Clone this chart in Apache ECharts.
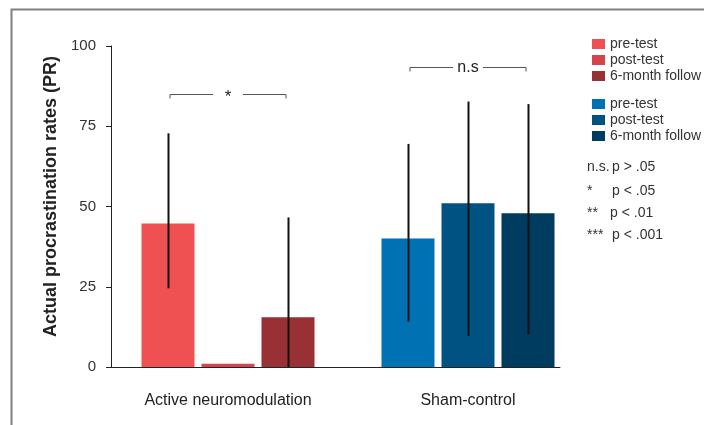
<!DOCTYPE html>
<html>
<head>
<meta charset="utf-8">
<script src="https://cdn.jsdelivr.net/npm/echarts@6/dist/echarts.min.js"></script>
<style>
html,body{margin:0;padding:0;background:#fff;}
#chart{width:704px;height:425px;}
</style>
</head>
<body>
<div id="chart"></div>
<script>
// ---- data ----
const categories = ['Active neuromodulation', 'Sham-control'];
const phases = ['pre-test', 'post-test', '6-month follow'];
const activeMeans = [44.7, 1.0, 15.5];
const activeErrLow = [24.5, null, 0];
const activeErrHigh = [72.8, null, 46.6];
const shamMeans = [40.0, 51.0, 47.9];
const shamErrLow = [14.1, 9.7, 10.2];
const shamErrHigh = [69.5, 82.7, 81.9];
const bracketLabels = ['*', 'n.s'];
const bracketLevels = [85, 93.5];
const yTicks = [0, 25, 50, 75, 100];
const pKeySymbols = ['n.s.', '*', '**', '***'];
const pKeyTexts = ['p > .05', 'p < .05', 'p < .01', 'p < .001'];
const yAxisTitle = 'Actual procrastination rates (PR)';

// ---- styles ----
const FONT = "'Liberation Sans', Arial, sans-serif";
const redColors = ['#EF5152', '#D7434A', '#983035'];
const blueColors = ['#0071B3', '#005283', '#003C60'];
const BAR_W = 53;
const BAR_GAP = 7;
const PITCH = BAR_W + BAR_GAP;

const series = [];
phases.forEach((ph, i) => {
  series.push({
    name: 'Active ' + ph, type: 'bar', xAxisIndex: 0, yAxisIndex: 0,
    stack: 's' + i, barWidth: BAR_W, barGap: (BAR_GAP / BAR_W * 100).toFixed(2) + '%',
    itemStyle: { color: redColors[i] },
    data: [activeMeans[i], '-']
  });
});
phases.forEach((ph, i) => {
  series.push({
    name: 'Sham ' + ph, type: 'bar', xAxisIndex: 0, yAxisIndex: 0,
    stack: 's' + i, barWidth: BAR_W,
    itemStyle: { color: blueColors[i] },
    data: ['-', shamMeans[i]]
  });
});

// error bars
const errData = [];
phases.forEach((ph, i) => {
  if (activeErrLow[i] !== null) errData.push([0, activeErrLow[i], activeErrHigh[i], i]);
  if (shamErrLow[i] !== null) errData.push([1, shamErrLow[i], shamErrHigh[i], i]);
});
series.push({
  type: 'custom', xAxisIndex: 0, yAxisIndex: 0, z: 5, silent: true,
  data: errData,
  renderItem: function (params, api) {
    const cat = api.value(0), slot = api.value(3);
    const p1 = api.coord([cat, api.value(1)]);
    const p2 = api.coord([cat, api.value(2)]);
    const x = Math.round(p1[0] + (slot - 1) * PITCH) + 0.5;
    return { type: 'line', shape: { x1: x, y1: p1[1], x2: x, y2: p2[1] },
      style: { stroke: '#111', lineWidth: 2, fill: null } };
  }
});

// significance brackets
series.push({
  type: 'custom', xAxisIndex: 0, yAxisIndex: 0, z: 5, silent: true,
  data: bracketLevels.map((v, i) => [i, v]),
  renderItem: function (params, api) {
    const c = api.coord([api.value(0), api.value(1)]);
    const label = bracketLabels[params.dataIndex];
    const y = Math.round(c[1]) + 0.5;
    const x1 = c[0] - PITCH + 2, x2 = c[0] + PITCH - 2;
    const hg = 15;
    const st = { stroke: '#555', lineWidth: 1, fill: null };
    return { type: 'group', children: [
      { type: 'polyline', shape: { points: [[x1, y + 4], [x1, y], [c[0] - hg, y]] }, style: st },
      { type: 'polyline', shape: { points: [[c[0] + hg, y], [x2, y], [x2, y + 4]] }, style: st },
      { type: 'text', style: { text: label, x: c[0], y: label === '*' ? y + 3 : y,
        align: 'center', verticalAlign: 'middle', fill: '#222',
        font: (label === '*' ? '17px ' : '16px ') + FONT } }
    ]};
  }
});

const legendBase = {
  orient: 'vertical', left: 587, itemWidth: 13, itemHeight: 10, itemGap: 2,
  icon: 'rect', selectedMode: false,
  textStyle: { fontFamily: FONT, fontSize: 14, lineHeight: 14, color: '#333' },
  formatter: n => n.replace(/^(Active|Sham) /, '')
};

const graphics = [
  { type: 'rect', shape: { x: 11.5, y: 9.5, width: 800, height: 500 },
    style: { fill: 'none', stroke: '#808080', lineWidth: 2 }, silent: true, z: -1 }
];
const pKeyRows = [168, 192, 214, 236];
pKeySymbols.forEach((s, i) => {
  const yy = pKeyRows[i];
  graphics.push({ type: 'text', left: 587, top: yy - 8,
    style: { text: s, font: '14px ' + FONT, fill: '#333' } });
  graphics.push({ type: 'text', left: s === '**' ? 610 : 612, top: yy - 8,
    style: { text: pKeyTexts[i], font: '14px ' + FONT, fill: '#333' } });
});

const option = {
  animation: false,
  backgroundColor: '#fff',
  grid: [
    { left: 108, right: 116, top: 46, bottom: 58 },
    { left: 111, right: 144, top: 46, bottom: 58 }
  ],
  xAxis: [
    { type: 'category', gridIndex: 0, data: categories,
      axisLine: { show: false }, axisTick: { show: false },
      axisLabel: { interval: 0, fontFamily: FONT, fontSize: 16, color: '#222', margin: 26 } },
    { type: 'value', gridIndex: 1, min: 0, max: 1,
      axisLine: { show: true, lineStyle: { color: '#222', width: 1 } },
      axisTick: { show: false }, axisLabel: { show: false }, splitLine: { show: false } }
  ],
  yAxis: [
    { type: 'value', gridIndex: 0, min: yTicks[0], max: yTicks[yTicks.length - 1], show: false },
    { type: 'value', gridIndex: 1, min: yTicks[0], max: yTicks[yTicks.length - 1],
      interval: yTicks[1] - yTicks[0],
      axisLine: { show: true, lineStyle: { color: '#222', width: 1 } },
      axisTick: { show: true, length: 5, lineStyle: { color: '#222' } },
      axisLabel: { fontFamily: FONT, fontSize: 15, color: '#333', margin: 15 },
      splitLine: { show: false },
      name: yAxisTitle, nameLocation: 'middle', nameGap: 50,
      nameTextStyle: { fontFamily: FONT, fontSize: 18, fontWeight: 'bold', color: '#222',
        padding: [0, 0, 0, 20] } }
  ],
  legend: [
    Object.assign({}, legendBase, { top: 32, data: phases.map(p => 'Active ' + p) }),
    Object.assign({}, legendBase, { top: 92, data: phases.map(p => 'Sham ' + p) })
  ],
  graphic: graphics,
  series: series
};

echarts.init(document.getElementById('chart')).setOption(option);
</script>
</body>
</html>
